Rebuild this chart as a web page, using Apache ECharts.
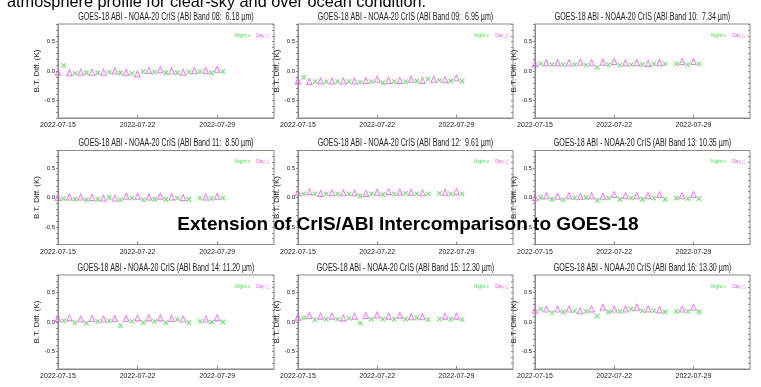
<!DOCTYPE html>
<html><head><meta charset="utf-8">
<script src="https://cdn.jsdelivr.net/npm/echarts@6/dist/echarts.min.js"></script>
<style>html,body{margin:0;padding:0;background:#fff}#c{width:761px;height:387px}</style>
</head><body><div id="c"></div>
<script>
// ---- data ----
const bandTitles = [
  'GOES-18 ABI - NOAA-20 CrIS (ABI Band 08:  6.18 \u00b5m)',
  'GOES-18 ABI - NOAA-20 CrIS (ABI Band 09:  6.95 \u00b5m)',
  'GOES-18 ABI - NOAA-20 CrIS (ABI Band 10:  7.34 \u00b5m)',
  'GOES-18 ABI - NOAA-20 CrIS (ABI Band 11:  8.50 \u00b5m)',
  'GOES-18 ABI - NOAA-20 CrIS (ABI Band 12:  9.61 \u00b5m)',
  'GOES-18 ABI - NOAA-20 CrIS (ABI Band 13: 10.35 \u00b5m)',
  'GOES-18 ABI - NOAA-20 CrIS (ABI Band 14: 11.20 \u00b5m)',
  'GOES-18 ABI - NOAA-20 CrIS (ABI Band 15: 12.30 \u00b5m)',
  'GOES-18 ABI - NOAA-20 CrIS (ABI Band 16: 13.30 \u00b5m)'
];
const dayDates = ['2022-07-15T00:00Z','2022-07-16T00:00Z','2022-07-17T00:00Z','2022-07-18T00:00Z','2022-07-19T00:00Z',
  '2022-07-20T00:00Z','2022-07-21T00:00Z','2022-07-22T00:00Z','2022-07-23T00:00Z','2022-07-24T00:00Z',
  '2022-07-25T00:00Z','2022-07-26T00:00Z','2022-07-27T00:00Z','2022-07-28T00:00Z','2022-07-29T00:00Z'];
const nightDates = ['2022-07-15T12:00Z','2022-07-16T12:00Z','2022-07-17T12:00Z','2022-07-18T12:00Z','2022-07-19T12:00Z',
  '2022-07-20T12:00Z','2022-07-21T12:00Z','2022-07-22T12:00Z','2022-07-23T12:00Z','2022-07-24T12:00Z',
  '2022-07-25T12:00Z','2022-07-26T12:00Z','2022-07-27T12:00Z','2022-07-28T12:00Z','2022-07-29T12:00Z'];
const xStart = '2022-07-15T00:00Z';
const xEnd = '2022-08-03T00:00Z';
const xTickLabels = ['2022-07-15','2022-07-22','2022-07-29'];
const yTickLabels = ['-0.5','0.0','0.5'];

const day08   = [-0.02,-0.03,-0.02,-0.02,-0.02, 0.00,-0.02,-0.05, 0.01, 0.02, 0.00,-0.02, 0.01, 0.01, 0.03];
const night08 = [ 0.09,-0.04,-0.03,-0.03,-0.02,-0.03,-0.04,-0.01,-0.02,-0.03,-0.03,-0.02,-0.01,-0.03,-0.01];
const day09   = [-0.17,-0.18,-0.17,-0.17,-0.17,-0.17,-0.16,-0.14,-0.16,-0.16,-0.14,-0.16,-0.14,-0.15,-0.12];
const night09 = [-0.11,-0.18,-0.18,-0.18,-0.18,-0.19,-0.18,-0.20,-0.18,-0.18,-0.17,-0.14,-0.16,-0.17,-0.17];
const day10   = [ 0.12, 0.14, 0.14, 0.14, 0.15, 0.14, 0.15, 0.16, 0.14, 0.14, 0.13, 0.14, null, 0.16, 0.16];
const night10 = [ 0.12, 0.11, 0.11, 0.11, 0.10, 0.06, 0.11, 0.10, 0.11, 0.11, 0.12, 0.12, 0.12, 0.11, 0.12];
const day11   = [ 0.00, 0.01, 0.01, 0.00,-0.01,-0.01, 0.02, 0.02, 0.01, 0.02, 0.01, 0.00, null, 0.01, 0.02];
const night11 = [-0.02,-0.03,-0.04,-0.03, 0.00,-0.04,-0.01,-0.04,-0.03,-0.03,-0.01,-0.03,-0.01,-0.02,-0.01];
const day12   = [ 0.08, 0.10, 0.07, 0.08, 0.08, 0.08, 0.07, 0.09, 0.10, 0.09, 0.09, 0.08, null, 0.09, 0.10];
const night12 = [ 0.06, 0.06, 0.06, 0.06, 0.06, 0.03, 0.06, 0.05, 0.06, 0.07, 0.06, 0.06, 0.07, 0.06, 0.06];
const day13   = [ 0.00, 0.03, 0.02, 0.03, 0.02, 0.03, 0.02, 0.05, 0.03, 0.03, 0.03, 0.05, null, 0.03, 0.05];
const night13 = [ 0.00,-0.03,-0.04,-0.01, 0.00,-0.05,-0.01,-0.03,-0.01,-0.03,-0.01,-0.03,-0.01,-0.02,-0.02];
const day14   = [ 0.06, 0.07, 0.05, 0.06, 0.05, 0.06, 0.06, 0.07, 0.07, 0.07, 0.06, 0.05, null, 0.05, 0.07];
const night14 = [ 0.02,-0.01,-0.02, 0.01, 0.02,-0.06, 0.01,-0.01, 0.01,-0.01, 0.04,-0.01, 0.01, 0.00, 0.00];
const day15   = [ 0.08, 0.11, 0.10, 0.10, 0.07, 0.10, 0.11, 0.12, 0.10, 0.11, 0.09, 0.09, null, 0.10, 0.10];
const night15 = [ 0.07, 0.04, 0.05, 0.05, 0.06,-0.02, 0.05, 0.05, 0.05, 0.05, 0.07, 0.04, 0.05, 0.05, 0.04];
const day16   = [ 0.20, 0.22, 0.22, 0.22, 0.19, 0.22, 0.25, 0.22, 0.22, 0.25, 0.22, 0.21, null, 0.22, 0.25];
const night16 = [ 0.22, 0.16, 0.17, 0.19, 0.18, 0.10, 0.17, 0.18, 0.22, 0.19, 0.19, 0.17, 0.18, 0.18, 0.17];

const dayValues = [day08, day09, day10, day11, day12, day13, day14, day15, day16];
const nightValues = [night08, night09, night10, night11, night12, night13, night14, night15, night16];

// ---- layout ----
const colLeft = [58, 298, 535];
const colWidth = [216, 215, 215];
const rowTop = [24, 150.5, 275];
const gridH = 94;
const NIGHT_C = '#3fe03f', DAY_C = '#ee55ee', AXIS_C = '#888', TXT_C = '#222';
const NARROW = '"Liberation Sans Narrow", "Arial Narrow", "Liberation Sans", Arial, sans-serif';
const SANS = '"Liberation Sans", Arial, sans-serif';

const base = Date.parse(xStart);
const off = s => (Date.parse(s.length === 10 ? s + 'T00:00Z' : s) - base) / 86400000;
const xMax = off(xEnd);

const grids = [], xAxes = [], yAxes = [], series = [], graphics = [];
for (let i = 0; i < 9; i++) {
  const r = Math.floor(i / 3), c = i % 3;
  const left = colLeft[c], top = rowTop[r], w = colWidth[c];
  grids.push({left, top, width: w, height: gridH, show: true, borderColor: AXIS_C, borderWidth: 1, backgroundColor: 'rgba(0,0,0,0)'});
  xAxes.push({
    gridIndex: i, type: 'value', min: 0, max: xMax, interval: 7, position: 'bottom',
    axisLine: {show: true, onZero: false, lineStyle: {color: AXIS_C}},
    axisTick: {show: true, inside: true, length: 3, lineStyle: {color: AXIS_C}},
    splitLine: {show: false},
    axisLabel: {fontSize: 7, fontFamily: NARROW, color: TXT_C, margin: 4, showMaxLabel: false,
      formatter: v => { const k = xTickLabels.findIndex(l => Math.abs(off(l) - v) < 1e-6); return k >= 0 ? xTickLabels[k] : ''; }}
  });
  yAxes.push({
    gridIndex: i, type: 'value', position: 'left', min: -0.8, max: 0.8, interval: 0.1,
    name: 'B.T. Diff. (K)', nameLocation: 'middle', nameGap: 13,
    nameTextStyle: {fontSize: 8, fontFamily: SANS, color: TXT_C},
    axisLine: {show: true, onZero: false, lineStyle: {color: AXIS_C}},
    axisTick: {show: true, length: 2, lineStyle: {color: AXIS_C}},
    splitLine: {show: false},
    axisLabel: {fontSize: 6, fontFamily: NARROW, color: TXT_C, margin: 3,
      formatter: v => { const k = yTickLabels.findIndex(l => Math.abs(parseFloat(l) - v) < 1e-6); return k >= 0 ? yTickLabels[k] : ''; }}
  });
  yAxes.push({
    gridIndex: i, type: 'value', position: 'right', min: -0.8, max: 0.8, interval: 0.1,
    axisLine: {show: false, onZero: false}, axisTick: {show: true, inside: true, length: 2, lineStyle: {color: AXIS_C}},
    axisLabel: {show: false}, splitLine: {show: false}
  });
  series.push({
    type: 'scatter', xAxisIndex: i, yAxisIndex: 2 * i, name: 'Day',
    symbol: 'path://M5,0L10,10L0,10Z', symbolSize: [5.5, 6],
    itemStyle: {color: 'rgba(0,0,0,0)', borderColor: DAY_C, borderWidth: 1},
    data: dayDates.map((d, k) => [off(d), dayValues[i][k]]).filter(p => p[1] !== null)
  });
  series.push({
    type: 'scatter', xAxisIndex: i, yAxisIndex: 2 * i, name: 'Night',
    symbol: 'path://M0,0L10,10M0,10L10,0', symbolSize: 4.5,
    itemStyle: {color: 'rgba(0,0,0,0)', borderColor: NIGHT_C, borderWidth: 1.1},
    data: nightDates.map((d, k) => [off(d), nightValues[i][k]]).filter(p => p[1] !== null)
  });
  graphics.push({type: 'text', x: left + w / 2, y: top - 7, scaleX: 0.71, z: 50,
    style: {text: bandTitles[i], font: '10px ' + SANS, fill: TXT_C, align: 'center', verticalAlign: 'middle'}});
  graphics.push({type: 'text', x: left + w - 24, y: top + 11, scaleX: 0.8, z: 50,
    style: {text: 'Night x', font: '6px ' + SANS, fill: NIGHT_C, align: 'right', verticalAlign: 'middle'}});
  graphics.push({type: 'text', x: left + w - 4, y: top + 11, scaleX: 0.8, z: 50,
    style: {text: 'Day \u25b3', font: '6px ' + SANS, fill: DAY_C, align: 'right', verticalAlign: 'middle'}});
}
graphics.push({type: 'text', x: 7, y: 3, z: 60,
  style: {text: 'atmosphere profile for clear-sky and over ocean condition.', font: '16.3px ' + SANS, fill: '#000', align: 'left', verticalAlign: 'middle'}});
graphics.push({type: 'text', x: 408, y: 225, z: 100,
  style: {text: 'Extension of CrIS/ABI Intercomparison to GOES-18', font: 'bold 19px ' + SANS, fill: '#000', align: 'center', verticalAlign: 'middle'}});

const chart = echarts.init(document.getElementById('c'), null, {renderer: 'canvas'});
chart.setOption({
  animation: false, backgroundColor: '#fff',
  grid: grids, xAxis: xAxes, yAxis: yAxes, series: series, graphic: graphics
});
</script></body></html>
